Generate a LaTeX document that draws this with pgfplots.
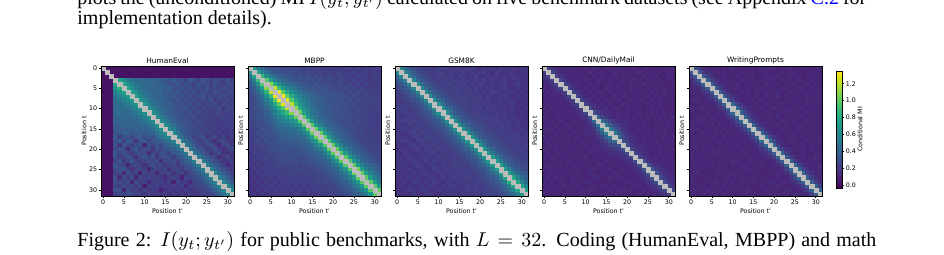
\documentclass[border=0pt]{standalone}
\usepackage{pgfplots}
\usepackage{pgfplotstable}
\pgfplotsset{compat=1.18}
\usepackage{fontspec}
\setmainfont{Liberation Serif}
\newfontfamily\dejavu{DejaVu Sans}
\definecolor{baddiag}{RGB}{188,188,188}
\newcommand\cf{\dejavu\fontsize{3.15}{3.6}\selectfont}
\newcommand\tf{\dejavu\fontsize{3.7}{4.2}\selectfont}

% HumanEval (values x100)
\pgfplotstableread[header=false]{
nan 3 3 3 4 3 3 4 3 3 3 4 3 3 3 3 4 3 3 3 3 4 3 3 3 3 3 4 3 3 3 3
3 nan 3 4 3 3 3 3 4 3 3 3 3 4 3 3 3 3 3 4 3 3 3 3 4 3 3 3 3 3 4 3
3 3 nan 3 3 4 3 3 3 3 3 3 4 3 3 3 3 4 3 3 3 3 3 3 3 4 3 3 3 3 3 4
3 4 3 nan 78 66 56 48 45 42 44 40 38 42 36 34 30 36 28 32 26 34 30 24 33 28 22 30 27 25 31 24
4 3 3 80 nan 82 68 58 50 46 43 47 41 38 40 35 33 30 35 27 31 29 25 32 27 30 23 28 26 22 29 27
3 3 4 68 84 nan 80 66 55 49 45 42 46 39 41 36 38 31 29 33 27 30 26 28 24 31 25 27 23 28 26 25
3 4 3 57 70 78 nan 76 64 54 47 44 41 43 38 35 37 32 34 28 30 26 31 25 29 27 24 30 26 23 27 28
4 3 3 50 59 67 74 nan 74 62 52 46 43 40 42 36 33 35 30 31 27 29 25 28 32 24 26 23 27 29 22 26
3 3 4 46 51 57 65 72 nan 72 60 50 45 41 39 40 34 31 33 28 30 26 29 24 27 25 30 22 26 24 28 23
3 4 3 43 47 50 55 63 70 nan 70 58 49 44 40 37 38 33 30 32 27 29 25 28 23 26 24 29 21 27 25 24
3 3 3 45 44 46 48 53 61 68 nan 68 57 48 43 39 36 34 31 29 33 26 28 24 27 22 25 23 28 20 26 25
4 3 3 41 48 43 45 47 51 59 66 nan 67 56 47 42 38 35 32 30 28 31 25 27 23 26 21 24 27 22 25 23
3 3 4 39 42 47 42 44 46 50 58 65 nan 66 55 46 41 37 33 31 29 27 30 24 26 22 25 20 23 26 21 24
3 4 3 42 39 40 44 41 42 45 49 56 64 nan 66 56 47 40 35 32 30 28 26 29 23 25 21 24 19 22 25 23
3 3 3 37 41 42 39 43 40 41 44 48 55 65 nan 68 57 46 38 33 31 29 27 25 28 22 24 20 23 21 24 22
4 3 3 35 36 37 36 37 41 38 40 43 47 56 67 nan 66 54 43 36 32 30 28 26 24 27 21 23 19 22 20 23
3 4 3 31 34 39 38 34 35 39 37 39 42 48 58 66 nan 62 49 39 33 31 29 27 25 23 26 20 22 18 21 22
3 3 4 37 24 32 33 26 32 38 28 36 30 41 47 55 62 nan 60 46 37 32 24 28 33 21 22 29 19 26 17 24
3 3 3 29 36 22 35 31 18 31 36 25 34 36 39 44 50 58 nan 56 44 36 31 22 27 31 23 15 24 28 20 19
4 3 3 33 18 34 29 22 29 33 12 31 24 33 28 37 40 47 55 nan 55 43 35 27 21 26 30 22 14 23 27 19
3 4 3 27 32 28 14 28 35 24 30 29 19 31 26 33 35 38 45 54 nan 54 42 34 30 20 25 31 21 16 22 28
3 3 4 35 26 31 27 20 27 30 27 14 28 24 30 31 22 34 37 44 53 nan 54 42 33 29 17 24 30 20 18 21
3 3 3 31 22 27 32 26 16 26 33 26 31 18 28 29 30 24 33 36 43 54 nan 55 43 34 29 26 15 21 27 17
4 3 3 25 33 19 26 35 25 20 25 28 25 30 14 27 28 29 22 32 35 43 55 nan 56 44 35 30 26 19 20 25
3 4 3 34 28 25 10 25 28 24 17 24 32 24 29 19 26 27 20 29 31 34 44 56 nan 57 45 36 30 25 14 19
3 3 4 29 31 32 24 18 24 27 23 11 23 26 23 28 16 25 26 21 28 30 35 45 57 nan 58 46 37 30 24 20
3 3 3 23 26 14 31 23 26 9 26 22 25 13 25 22 27 17 24 25 18 27 30 36 46 58 nan 59 47 37 29 23
4 3 3 31 15 28 22 29 12 25 22 25 21 24 21 14 21 26 22 11 24 25 27 31 37 47 59 nan 60 48 37 28
3 4 3 28 27 24 27 11 28 21 24 13 24 20 23 20 23 10 25 21 22 14 25 27 31 38 48 60 nan 60 47 36
3 3 4 26 23 29 25 26 20 27 9 23 20 23 19 22 19 22 19 24 12 21 23 26 26 31 38 49 61 nan 61 48
3 3 3 32 30 12 28 23 25 19 26 19 22 19 10 18 21 18 21 18 23 19 21 23 25 27 31 38 48 62 nan 62
4 3 3 24 27 26 29 27 22 24 18 25 18 21 18 21 17 20 17 20 17 22 18 20 22 24 27 31 37 49 63 nan
}\HE

% MBPP
\pgfplotstableread[header=false]{
nan 72 52 42 35 31 29 28 26 27 24 28 25 23 26 22 25 21 24 20 23 22 19 24 21 20 23 19 22 20 24 21
72 nan 80 58 46 38 33 31 29 27 30 26 28 24 27 25 23 26 22 24 21 25 23 20 22 24 19 21 23 20 22 21
52 80 nan 90 66 52 44 38 35 33 31 29 32 28 30 26 29 27 24 28 25 23 26 22 24 21 25 22 23 20 24 22
42 58 90 nan 98 74 58 48 42 38 35 33 31 30 28 31 27 29 25 28 26 23 27 24 22 25 21 24 22 20 23 19
35 46 66 98 nan 110 84 66 54 47 42 38 35 33 31 29 32 28 30 26 27 24 28 23 25 22 26 21 24 20 22 23
31 38 52 74 110 nan 122 92 72 60 52 46 41 37 35 32 30 33 29 31 27 28 25 29 24 26 23 27 22 24 21 23
29 33 44 58 84 122 nan 132 100 80 66 56 49 44 40 37 34 31 33 30 32 28 29 26 28 25 27 23 26 24 22 23
28 31 38 48 66 92 132 nan 134 102 82 68 58 50 45 41 38 35 32 34 31 33 29 30 27 28 26 25 27 24 23 22
26 29 35 42 54 72 100 134 nan 130 98 78 64 55 48 43 40 37 34 31 33 30 32 28 29 26 27 25 24 26 23 24
27 27 33 38 47 60 80 102 130 nan 120 90 72 60 51 45 41 38 35 33 30 32 29 31 27 28 25 26 24 23 25 22
24 30 31 35 42 52 66 82 98 120 nan 110 82 65 55 48 43 39 36 34 31 33 29 30 28 26 27 24 25 23 22 24
28 26 29 33 38 46 56 68 78 90 110 nan 104 76 60 50 44 40 36 34 32 30 31 28 29 26 27 25 23 24 22 23
25 28 32 31 35 41 49 58 64 72 82 104 nan 100 72 57 48 42 38 35 33 31 29 30 27 28 25 26 24 22 23 21
23 24 28 30 33 37 44 50 55 60 65 76 100 nan 98 70 55 46 41 37 34 32 30 28 29 26 27 24 25 23 21 22
26 27 30 28 31 35 40 45 48 51 55 60 72 98 nan 100 72 56 46 41 37 34 31 29 27 28 25 26 24 22 23 21
22 25 26 31 29 32 37 41 43 45 48 50 57 70 100 nan 104 75 58 47 41 37 34 31 29 27 25 26 23 24 22 21
25 23 29 27 30 29 34 38 40 41 43 44 48 55 72 104 nan 104 74 57 47 41 37 33 30 28 26 27 24 25 22 23
21 26 24 29 28 33 31 35 37 38 39 40 42 46 56 75 104 nan 100 72 56 46 40 36 32 29 27 25 26 23 24 22
24 22 27 25 30 27 32 33 34 35 36 36 38 41 46 58 74 100 nan 98 70 55 45 39 35 31 28 26 24 25 23 22
20 24 22 27 26 31 28 31 31 33 34 34 35 37 41 47 57 72 98 nan 102 72 56 46 40 35 31 28 26 24 25 23
23 21 24 22 27 27 32 29 32 30 31 32 33 34 37 41 47 56 70 102 nan 102 73 56 46 40 35 31 28 26 24 25
19 25 21 24 23 28 26 30 28 31 29 30 31 32 34 37 41 46 55 72 102 nan 98 70 55 45 39 35 31 28 26 25
22 20 23 21 26 24 28 27 30 28 31 28 29 30 31 34 37 40 45 56 73 98 nan 100 71 56 46 40 35 31 28 26
18 23 20 24 22 25 23 28 26 29 27 30 27 28 29 31 33 36 39 46 56 70 100 nan 98 70 55 45 39 34 31 28
21 19 22 20 24 22 26 24 27 25 28 26 25 27 28 29 30 32 35 40 46 55 71 98 nan 100 72 56 46 40 35 31
17 22 19 23 21 24 21 25 23 26 24 27 26 24 25 27 28 29 31 35 40 45 56 70 100 nan 104 74 57 47 41 36
20 18 21 19 23 21 24 22 25 23 26 24 23 25 24 26 27 28 29 32 35 39 46 55 72 104 nan 102 73 57 46 40
16 21 18 22 20 23 19 24 21 24 22 25 22 23 24 23 25 26 27 29 31 35 40 45 56 74 102 nan 100 72 56 46
19 17 20 18 22 20 23 21 22 20 23 21 24 22 21 23 24 25 26 26 28 31 35 39 46 57 73 100 nan 100 72 56
15 20 17 21 19 22 18 23 20 22 19 22 20 23 21 22 22 24 24 25 26 28 31 34 40 47 57 72 100 nan 98 70
18 16 19 17 21 19 22 20 21 19 22 20 21 19 22 20 23 22 23 24 24 26 28 31 35 41 46 56 72 98 nan 100
16 19 16 20 18 21 19 20 18 21 19 22 20 18 21 19 20 21 22 23 25 25 26 28 31 36 40 46 56 70 100 nan
}\MB

% GSM8K
\pgfplotstableread[header=false]{
nan 60 43 34 28 25 23 22 21 19 23 20 24 18 21 22 17 20 23 19 16 21 18 20 17 22 19 16 20 18 17 19
60 nan 62 44 35 29 25 23 22 20 24 21 19 23 20 18 22 19 21 17 20 23 18 16 21 19 17 20 18 16 19 17
43 62 nan 58 42 34 28 25 23 21 22 25 20 22 19 23 21 18 20 22 17 19 21 18 20 16 19 17 21 18 16 18
34 44 58 nan 60 43 34 29 25 23 22 20 24 21 23 19 22 20 17 21 19 22 18 20 17 19 21 16 18 20 17 19
28 35 42 60 nan 62 45 35 29 26 24 22 21 25 20 22 24 19 21 18 22 20 17 21 19 18 20 16 19 21 17 18
25 29 34 43 62 nan 60 44 35 29 26 24 23 21 24 22 20 23 19 22 20 18 21 19 17 20 22 18 16 19 17 18
23 25 28 34 45 60 nan 62 45 36 30 27 25 23 22 25 21 23 20 22 19 21 18 22 20 17 19 21 18 17 19 16
22 23 25 29 35 44 62 nan 63 46 37 31 27 25 24 22 26 21 23 20 22 18 21 19 17 20 22 18 16 19 17 18
21 22 23 25 29 35 45 63 nan 65 47 36 31 27 25 24 22 25 20 23 21 19 22 18 20 21 17 19 18 16 19 17
19 20 21 23 26 29 36 46 65 nan 66 48 37 31 28 25 24 23 21 24 20 22 19 21 18 20 17 19 21 16 18 17
23 24 22 22 24 26 30 37 47 66 nan 67 48 37 32 28 25 24 22 21 23 19 22 20 18 21 19 17 20 18 16 19
20 21 25 20 22 24 27 31 36 48 67 nan 66 48 37 31 28 25 23 22 24 20 21 19 22 18 20 17 19 16 18 17
24 19 20 24 21 23 25 27 31 37 48 66 nan 68 49 38 32 29 26 24 22 25 21 23 20 19 21 18 20 17 19 16
18 23 22 21 25 21 23 25 27 31 37 48 68 nan 68 50 38 33 29 26 24 23 22 20 24 21 19 22 18 20 17 19
21 18 19 23 20 22 25 22 25 28 32 37 49 68 nan 70 50 39 33 29 27 25 24 22 21 23 20 22 19 21 18 17
17 22 23 19 22 25 21 25 24 25 28 31 38 50 70 nan 70 50 39 33 29 26 24 23 21 22 20 23 19 18 20 17
20 19 17 22 24 20 23 21 22 24 25 28 32 38 50 70 nan 72 51 40 34 29 26 25 23 22 24 21 20 22 18 19
23 17 20 18 21 23 19 24 25 23 24 25 29 33 39 50 72 nan 71 50 39 33 29 26 24 23 22 21 23 20 19 21
16 21 22 20 17 22 24 20 22 21 22 23 26 29 33 39 51 71 nan 72 52 40 34 30 27 25 23 24 21 22 20 19
19 18 16 21 23 19 21 23 20 24 21 22 24 26 29 33 40 50 72 nan 70 50 39 33 29 26 24 22 23 21 20 22
15 20 19 17 20 22 18 22 23 20 23 21 22 24 27 29 34 39 52 70 nan 72 51 40 34 30 27 25 23 22 24 21
18 16 21 19 18 20 21 19 21 22 19 24 20 22 25 26 29 33 40 50 72 nan 70 51 39 33 29 27 25 24 22 23
20 18 17 22 19 17 21 23 20 19 22 20 23 21 22 24 26 29 34 39 51 70 nan 74 53 41 35 30 27 25 24 22
16 21 19 18 21 20 18 22 19 23 20 21 19 22 24 23 25 26 30 33 40 51 74 nan 75 54 42 35 31 28 25 26
19 17 20 16 19 22 20 17 21 20 18 22 21 20 23 22 24 25 27 29 34 39 53 75 nan 74 53 41 35 30 27 25
17 20 18 21 17 19 21 19 18 22 21 19 22 20 21 24 22 23 25 26 30 33 41 54 74 nan 76 55 43 36 31 28
21 16 19 17 20 18 20 22 19 17 21 20 18 22 20 21 23 22 24 25 27 29 35 42 53 76 nan 78 56 44 37 32
16 19 17 20 18 21 17 19 21 20 18 22 19 21 23 20 22 24 21 24 25 27 30 35 41 55 78 nan 82 59 46 38
18 17 20 16 21 19 18 20 18 22 19 17 21 20 19 22 21 20 23 22 24 25 27 31 35 43 56 82 nan 80 58 45
15 19 16 19 17 18 20 17 21 19 17 20 18 22 21 18 20 22 21 23 22 24 25 28 30 36 44 59 80 nan 78 57
17 16 18 20 19 17 19 21 18 17 20 18 21 19 20 21 19 23 20 22 21 22 24 25 27 31 37 46 58 78 nan 76
16 18 17 16 20 18 16 19 20 18 16 19 17 20 18 17 21 19 19 21 20 23 22 26 25 28 32 38 45 57 76 nan
}\GS

% CNN/DailyMail
\pgfplotstableread[header=false]{
nan 24 17 14 12 13 11 14 12 10 13 11 15 12 10 13 11 12 14 10 12 11 13 10 12 14 11 10 12 13 11 12
24 nan 25 17 13 12 14 11 13 12 10 14 12 11 13 10 12 15 11 13 10 12 11 14 12 10 13 11 12 10 14 11
17 25 nan 24 17 13 12 14 11 13 12 10 13 11 14 12 11 13 10 12 14 11 12 10 13 11 12 14 10 11 13 12
14 17 24 nan 25 18 14 12 13 11 14 12 10 13 12 11 14 12 10 13 11 12 15 11 10 12 13 11 12 10 12 11
12 13 17 25 nan 24 17 13 14 12 11 13 12 14 10 12 13 11 14 12 10 13 11 12 14 11 10 12 13 11 10 12
13 12 13 18 24 nan 25 17 13 12 14 11 13 12 10 14 12 11 13 10 12 14 11 13 10 12 11 13 10 12 11 13
11 14 12 14 17 25 nan 24 17 14 12 13 11 14 12 10 13 12 11 14 10 12 13 11 12 10 13 11 12 14 10 12
14 11 14 12 13 17 24 nan 25 18 13 12 14 11 13 12 10 14 11 13 12 10 14 11 12 13 10 12 11 13 12 10
12 13 11 13 14 13 17 25 nan 24 17 14 12 13 11 14 12 11 13 10 12 14 11 13 12 10 13 11 14 12 10 12
10 12 13 11 12 12 14 18 24 nan 25 18 14 12 13 11 13 12 10 14 12 11 13 12 10 14 11 12 13 10 12 11
13 10 12 14 11 14 12 13 17 25 nan 26 18 14 12 14 11 13 12 10 14 11 13 12 10 12 14 11 13 12 10 11
11 14 11 12 13 11 14 12 14 18 26 nan 32 21 16 13 14 12 13 11 14 12 10 13 12 11 14 12 10 13 11 12
15 12 10 13 12 13 11 13 12 14 18 32 nan 40 26 19 15 13 14 12 13 11 14 12 10 13 12 11 14 12 10 13
12 11 13 10 14 12 10 14 11 12 14 21 40 nan 50 34 24 18 15 13 14 12 13 11 14 12 10 13 11 12 14 11
10 13 11 12 10 14 12 11 13 12 12 16 26 50 nan 56 38 26 19 15 14 12 13 11 14 12 10 13 12 11 13 12
13 12 14 11 12 10 13 12 11 13 14 13 19 34 56 nan 58 38 26 18 15 13 12 14 11 13 12 10 12 13 11 10
11 12 10 14 13 12 10 14 12 11 13 14 15 24 38 58 nan 52 35 24 17 14 13 11 12 14 10 13 11 12 10 12
14 10 12 13 11 12 14 11 13 10 12 12 13 18 26 38 52 nan 44 28 20 16 13 12 14 11 13 12 10 14 11 13
12 13 11 12 14 11 12 10 12 13 11 13 14 15 19 26 35 44 nan 32 22 16 14 12 13 11 12 14 10 12 13 11
10 12 13 11 12 14 10 13 11 12 14 11 12 13 15 18 24 28 32 nan 30 20 15 13 12 14 11 13 12 10 13 12
13 11 12 14 10 12 13 12 14 11 12 14 13 14 14 15 17 20 22 30 nan 28 19 15 13 12 14 11 13 12 10 12
11 14 10 12 13 11 12 14 12 13 10 12 11 12 12 13 14 16 16 20 28 nan 26 18 14 13 11 12 14 12 13 11
14 12 13 11 12 13 11 12 10 12 14 10 14 13 13 12 13 13 14 15 19 26 nan 27 18 14 12 13 11 13 12 10
12 10 12 13 11 12 14 10 13 11 12 13 12 11 11 14 11 12 12 13 15 18 27 nan 28 19 15 13 12 14 11 13
11 13 11 12 14 10 12 13 11 14 12 11 10 14 14 11 12 14 13 12 13 14 18 28 nan 32 21 16 13 12 14 12
13 11 14 12 11 13 11 12 13 12 10 13 13 12 12 13 14 11 11 14 12 13 14 19 32 nan 34 22 17 14 12 13
10 12 13 11 13 12 13 11 12 10 12 14 12 10 13 12 10 13 12 11 14 11 12 15 21 34 nan 33 22 16 13 12
12 13 11 14 12 11 12 14 11 13 12 11 14 13 12 10 13 12 14 13 11 12 13 13 16 22 33 nan 30 20 15 13
14 11 12 10 13 12 10 13 12 12 14 13 11 12 11 12 11 10 12 12 13 14 11 12 13 17 22 30 nan 28 19 15
11 12 14 12 11 14 12 12 13 11 10 12 13 10 13 13 12 14 10 12 10 12 13 14 12 14 16 20 28 nan 26 18
12 14 11 13 12 10 13 11 12 13 12 14 12 11 12 11 13 12 13 13 12 13 12 11 14 12 13 15 19 26 nan 25
13 11 12 12 10 13 12 10 12 11 11 13 10 12 12 12 11 14 11 12 11 11 10 13 12 13 12 13 15 18 25 nan
}\CN

% WritingPrompts
\pgfplotstableread[header=false]{
nan 36 22 15 12 11 13 10 12 11 14 12 10 13 11 12 10 14 11 12 13 10 11 12 14 10 12 11 13 10 12 11
36 nan 37 22 15 13 11 12 14 10 12 11 13 12 10 14 11 12 13 10 12 11 14 10 12 13 11 10 12 14 11 12
22 37 nan 36 23 15 12 11 13 12 10 14 11 12 13 11 10 12 14 11 13 12 10 11 13 12 14 10 11 12 13 10
15 22 36 nan 38 23 16 12 11 13 12 10 14 12 11 13 10 12 11 14 12 10 13 11 12 10 14 12 11 13 10 12
12 15 23 38 nan 36 22 15 13 11 12 14 10 12 13 11 12 10 14 11 13 12 10 12 11 13 10 12 14 11 12 10
11 13 15 23 36 nan 37 23 15 12 11 13 12 10 14 11 13 12 10 12 14 11 12 13 10 11 12 14 10 13 11 12
13 11 12 16 22 37 nan 38 22 16 12 11 13 12 14 10 12 11 13 12 10 14 11 12 13 10 12 11 13 12 14 11
10 12 11 12 15 23 38 nan 40 24 16 13 11 12 14 11 12 10 13 12 11 14 10 12 11 13 12 10 14 11 12 13
12 14 13 11 13 15 22 40 nan 38 23 15 12 11 13 12 10 14 12 11 13 12 10 11 13 12 14 10 12 11 13 12
11 10 12 10 11 12 16 24 38 nan 42 25 17 13 11 12 14 10 13 12 11 12 14 11 10 13 12 11 13 12 10 11
14 12 11 14 12 11 12 16 23 42 nan 44 26 17 13 12 11 13 10 12 14 11 12 13 11 10 12 14 11 13 12 11
12 11 10 12 13 10 11 13 15 25 44 nan 45 27 17 13 12 11 14 12 10 13 11 12 14 11 12 10 13 11 12 10
10 13 12 11 10 14 13 11 12 17 26 45 nan 42 25 16 13 12 11 13 12 14 10 12 11 13 12 14 10 12 11 13
13 11 14 12 12 11 12 12 11 13 17 27 42 nan 40 24 16 12 13 11 12 10 14 12 11 13 10 12 14 11 12 10
11 12 10 13 11 13 10 14 13 11 13 17 25 40 nan 41 24 16 12 11 13 12 10 14 11 12 13 11 10 12 14 11
12 14 11 10 12 12 14 11 12 12 12 13 16 24 41 nan 40 24 16 13 11 12 14 11 12 10 13 12 11 13 12 10
14 10 12 14 13 10 11 12 10 14 11 12 13 16 24 40 nan 42 25 16 12 13 11 12 10 14 11 12 13 10 12 11
11 13 12 11 10 14 12 10 14 10 13 14 12 12 16 24 42 nan 45 27 17 13 12 11 14 12 10 13 11 12 14 12
13 11 14 12 12 11 13 14 12 13 12 11 14 13 12 16 25 45 nan 44 26 16 13 11 12 14 11 10 13 12 11 13
10 12 11 14 11 12 10 12 11 12 12 14 12 11 11 13 16 27 44 nan 38 23 15 12 11 13 12 14 10 12 13 11
12 13 10 12 13 14 12 11 13 11 14 10 13 12 13 11 12 17 26 38 nan 37 22 15 13 12 11 13 12 14 10 12
11 10 13 10 11 11 13 14 12 12 11 13 11 14 12 12 13 13 16 23 37 nan 38 23 15 12 11 14 12 10 13 12
14 12 10 13 12 12 11 10 11 14 12 11 12 10 11 14 12 12 13 15 22 38 nan 36 22 15 12 13 11 12 14 11
12 11 13 12 13 12 10 12 11 11 14 13 12 10 14 12 11 12 11 12 15 23 36 nan 38 23 16 12 11 13 12 10
10 14 12 14 11 13 11 12 13 10 12 11 14 13 12 11 12 14 12 11 13 15 22 38 nan 44 26 17 13 12 11 13
13 12 11 12 12 11 13 12 11 12 10 12 11 14 13 10 11 12 11 13 12 12 15 23 44 nan 45 27 17 13 12 14
11 13 14 10 11 10 12 14 12 11 13 11 12 10 12 12 13 11 10 12 11 14 12 16 26 45 nan 42 25 16 12 13
12 11 10 12 13 12 11 10 12 13 11 12 11 13 11 13 10 12 13 11 12 13 11 12 17 27 42 nan 38 23 16 12
14 12 12 11 12 11 13 12 11 12 14 10 13 12 11 12 12 11 12 13 14 11 13 12 13 17 25 38 nan 37 22 15
10 11 13 12 10 13 12 11 14 10 12 11 12 11 12 10 11 13 12 11 12 13 12 11 11 13 16 23 37 nan 38 23
12 13 12 11 14 12 11 12 10 13 11 12 11 12 14 12 11 12 14 12 11 11 10 14 12 12 12 16 22 38 nan 38
11 12 10 13 11 11 12 10 13 12 11 10 12 13 11 11 12 11 12 13 12 12 11 13 12 14 13 12 15 23 38 nan
}\WP

\pgfplotsset{
  hm/.style={
    scale only axis, width=66.5pt, height=65pt,
    xmin=-0.5, xmax=31.5, ymin=-0.5, ymax=31.5, y dir=reverse,
    axis on top, clip marker paths=true,
    xtick={0,5,...,30}, ytick={0,5,...,30},
    tick align=outside, tick pos=left, major tick length=1.1pt,
    every tick/.style={black, line width=0.3pt},
    axis line style={line width=0.3pt},
    tick label style={font=\cf, inner sep=0.6pt},
    /pgf/number format/assume math mode=true,
    colormap/viridis, point meta min=-3, point meta max=135,
    axis background/.style={fill=baddiag},
    every axis title/.style={at={(axis description cs:0.5,1)}, anchor=center, yshift=2.6pt, font=\tf, inner sep=0pt},
    every axis x label/.style={at={(axis description cs:0.5,0)}, anchor=center, yshift=-7.6pt, font=\cf, inner sep=0pt},
    xlabel={Position t'}, ylabel={Position t},
  },
  ylabA/.style={every axis y label/.style={at={(axis description cs:0,0.5)}, xshift=-8.5pt, rotate=90, anchor=center, font=\cf, inner sep=0pt}},
  ylabB/.style={yticklabels={}, every axis y label/.style={at={(axis description cs:0,0.5)}, xshift=-3.6pt, rotate=90, anchor=center, font=\cf, inner sep=0pt}},
  hmcell/.style={scatter, only marks, mark=square*, mark size=1.05pt, point meta=explicit,
    scatter/use mapped color={draw=mapped color, fill=mapped color}, mark options={line width=0.15pt}},
  diagcell/.style={only marks, mark=square*, mark size=1.05pt, color=baddiag, mark options={draw=baddiag, fill=baddiag, line width=0.15pt}},
}
\newcommand\hmplot[1]{\pgfplotsinvokeforeach{0,...,31}{\addplot[hmcell] table[x expr=##1, y expr=\coordindex, meta index=##1]{#1};}%
  \addplot[diagcell] coordinates {(0,0) (1,1) (2,2) (3,3) (4,4) (5,5) (6,6) (7,7) (8,8) (9,9) (10,10) (11,11) (12,12) (13,13) (14,14) (15,15) (16,16) (17,17) (18,18) (19,19) (20,20) (21,21) (22,22) (23,23) (24,24) (25,25) (26,26) (27,27) (28,28) (29,29) (30,30) (31,31)};}

\begin{document}
\begin{tikzpicture}
\useasboundingbox (0,0) rectangle (472pt,-127pt);
\clip (0,0) rectangle (472pt,-127pt);
\node[anchor=base west, inner sep=0pt, font=\fontsize{10}{12}\selectfont] at (38.5pt,-2pt)
  {\makebox[394.5pt][s]{plots the (unconditioned) MI $I(y_t;y_{t'})$ calculated on five benchmark datasets (see Appendix \textcolor{blue}{C.2} for}};
\node[anchor=base west, inner sep=0pt, font=\fontsize{10}{12}\selectfont] at (38.5pt,-12pt)
  {implementation details).};
\node[anchor=base west, inner sep=0pt, font=\fontsize{10}{12}\selectfont] at (38.5pt,-123pt)
  {\makebox[399.5pt][s]{Figure 2: $I(y_t;y_{t'})$ for public benchmarks, with $L=32$. Coding (HumanEval, MBPP) and math}};

\begin{axis}[hm, ylabA, at={(50.5pt,-33pt)}, anchor=north west, title={HumanEval}]
\hmplot{\HE}
\end{axis}
\begin{axis}[hm, ylabB, at={(124pt,-33pt)}, anchor=north west, title={MBPP}]
\hmplot{\MB}
\end{axis}
\begin{axis}[hm, ylabB, at={(197.5pt,-33pt)}, anchor=north west, title={GSM8K}]
\hmplot{\GS}
\end{axis}
\begin{axis}[hm, ylabB, at={(271pt,-33pt)}, anchor=north west, title={CNN/DailyMail}]
\hmplot{\CN}
\end{axis}
\begin{axis}[hm, ylabB, at={(344.5pt,-33pt)}, anchor=north west, title={WritingPrompts},
  colorbar,
  colorbar style={
    at={(parent axis.north east)}, anchor=north west, xshift=-1.5pt, yshift=-2.5pt,
    scale only axis, width=3pt, height=58.5pt,
    ytick={0,20,40,60,80,100,120}, yticklabels={0.0,0.2,0.4,0.6,0.8,1.0,1.2},
    ytick pos=right, yticklabel pos=right, tick align=outside,
    major tick length=1.1pt, every tick/.style={black, line width=0.3pt},
    yticklabel style={font=\cf, inner sep=0.6pt},
    axis line style={line width=0.3pt},
    ylabel={Conditional MI},
    every axis y label/.style={at={(axis description cs:1,0.5)}, xshift=9pt, rotate=90, anchor=center, font=\cf, inner sep=0pt},
  }]
\hmplot{\WP}
\end{axis}
\end{tikzpicture}
\end{document}
